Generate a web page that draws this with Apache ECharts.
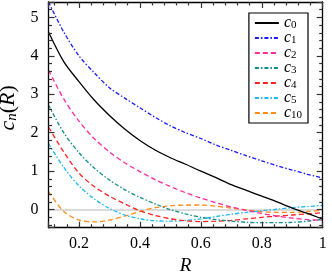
<!DOCTYPE html>
<html><head><meta charset="utf-8">
<script src="https://cdn.jsdelivr.net/npm/echarts@6/dist/echarts.min.js"></script>
<style>html,body{margin:0;padding:0;background:#fff}#c{width:332px;height:274px}</style>
</head><body><div id="c"></div>
<script>
// Data
const R   = [0.10, 0.15, 0.20, 0.25, 0.30, 0.35, 0.40, 0.45, 0.50, 0.55, 0.60, 0.65, 0.70, 0.75, 0.80, 0.85, 0.90, 0.95, 1.00];
const c0  = [4.62, 3.85, 3.33, 2.85, 2.45, 2.10, 1.80, 1.55, 1.35, 1.18, 1.00, 0.83, 0.65, 0.50, 0.35, 0.20, 0.04, -0.10, -0.25];
const c1  = [5.40, 4.62, 4.00, 3.56, 3.17, 2.90, 2.65, 2.40, 2.18, 2.00, 1.85, 1.68, 1.54, 1.40, 1.27, 1.14, 1.03, 0.92, 0.82];
const c2  = [3.63, 2.88, 2.30, 1.85, 1.50, 1.22, 0.99, 0.78, 0.60, 0.44, 0.30, 0.18, 0.07, -0.02, -0.10, -0.17, -0.22, -0.26, -0.28];
const c3  = [2.72, 2.00, 1.48, 1.08, 0.77, 0.52, 0.32, 0.15, 0.00, -0.11, -0.20, -0.26, -0.30, -0.33, -0.34, -0.34, -0.33, -0.30, -0.25];
const c4  = [2.15, 1.50, 0.95, 0.60, 0.35, 0.15, -0.03, -0.15, -0.24, -0.29, -0.31, -0.30, -0.28, -0.24, -0.20, -0.17, -0.14, -0.11, -0.08];
const c5  = [1.72, 1.10, 0.62, 0.28, 0.03, -0.14, -0.24, -0.29, -0.30, -0.28, -0.24, -0.18, -0.12, -0.07, -0.03, 0.01, 0.05, 0.08, 0.11];
const c10 = [0.47, -0.05, -0.27, -0.32, -0.27, -0.17, -0.05, 0.05, 0.10, 0.12, 0.12, 0.09, 0.04, -0.01, -0.05, -0.07, -0.07, -0.05, -0.02];

const seriesNames = ['c0', 'c1', 'c2', 'c3', 'c4', 'c5', 'c10'];
const seriesValues = [c0, c1, c2, c3, c4, c5, c10];
const seriesSubs = ['0', '1', '2', '3', '4', '5', '10'];
const colors = ['#000000', '#1a1aff', '#ff2a9d', '#0f8c8c', '#ff2222', '#1ab8f0', '#ff8c1a'];
const dashDot = [4, 2, 1.5, 2];
const dashed = [5, 3];
const lineTypes = ['solid', dashDot, dashed, dashDot, dashed, dashDot, dashed];

const SERIF = 'Liberation Serif';

const chart = echarts.init(document.getElementById('c'), null, {renderer: 'canvas'});

const TICK = {color: '#333', width: 1.2, opacity: 1};
function xAx(pos, labels) {
  return {
    type: 'value', position: pos, min: 0.1, max: 1, splitNumber: 5,
    axisLine: {show: true, onZero: false, lineStyle: {color: '#000', width: 1.3}},
    axisTick: {show: true, inside: true, length: 6, lineStyle: Object.assign({}, TICK)},
    minorTick: {show: true, splitNumber: 5, length: 3.5, lineStyle: Object.assign({}, TICK)},
    splitLine: {show: false},
    axisLabel: {show: labels, showMinLabel: false, color: '#000', fontFamily: SERIF, fontSize: 16, margin: 8,
      formatter: v => String(+v.toFixed(2))},
    name: labels ? 'R' : '', nameLocation: 'middle', nameGap: 24,
    nameTextStyle: {fontFamily: SERIF, fontStyle: 'italic', fontSize: 19, color: '#000'},
    z: 50
  };
}
function yAx(pos, labels) {
  return {
    type: 'value', position: pos, min: -0.47, max: 5.4, splitNumber: 6,
    axisLine: {show: true, onZero: false, lineStyle: {color: '#000', width: 1.3}},
    axisTick: {show: true, inside: true, length: 6, lineStyle: Object.assign({}, TICK)},
    minorTick: {show: true, splitNumber: 5, length: 3.5, lineStyle: Object.assign({}, TICK)},
    splitLine: {show: false},
    axisLabel: {show: labels, showMinLabel: false, showMaxLabel: false, color: '#000', fontFamily: SERIF, fontSize: 16, margin: 10,
      formatter: v => String(+v.toFixed(2))},
    name: labels ? '{i|c}{s|n}{p|(}{i|R}{p|)}' : '', nameLocation: 'middle', nameGap: 25, nameRotate: 90,
    nameTextStyle: {color: '#000', padding: [0, 0, 0, 14], rich: {
      i: {fontFamily: SERIF, fontStyle: 'italic', fontSize: 22, lineHeight: 22, color: '#000'},
      p: {fontFamily: SERIF, fontSize: 22, lineHeight: 22, color: '#000'},
      s: {fontFamily: SERIF, fontStyle: 'italic', fontSize: 15, lineHeight: 11, verticalAlign: 'bottom', color: '#000'}
    }},
    z: 50
  };
}

const series = seriesNames.map((n, k) => ({
  name: n, type: 'line', xAxisIndex: 0, yAxisIndex: 0,
  data: R.map((r, i) => [r, seriesValues[k][i]]),
  smooth: 0.3, symbol: 'none', clip: true,
  lineStyle: {color: colors[k], width: 1.3, type: lineTypes[k]},
  itemStyle: {color: colors[k]},
  z: 10 - k
}));
series[0].markLine = {
  silent: true, symbol: ['none', 'none'], label: {show: false},
  lineStyle: {color: '#cfcfcf', width: 1.5, type: 'solid'},
  data: [{yAxis: 0}], z: 1
};

chart.setOption({
  animation: false,
  backgroundColor: '#fff',
  grid: {left: 48.5, right: 9.3, top: 2, bottom: 46.3, containLabel: false, outerBoundsMode: 'none'},
  xAxis: [xAx('bottom', true), xAx('top', false)],
  yAxis: [yAx('left', true), yAx('right', false)],
  legend: {
    show: true, orient: 'vertical', right: 24, top: 13,
    itemWidth: 24, itemHeight: 10, itemGap: -1,
    padding: [2, 6, 2, 5],
    borderColor: '#000', borderWidth: 1.2, backgroundColor: '#fff',
    itemStyle: {color: 'rgba(0,0,0,0)', borderColor: 'rgba(0,0,0,0)', borderWidth: 0},
    data: seriesNames,
    formatter: name => '{i|c}{s|' + seriesSubs[seriesNames.indexOf(name)] + '}',
    textStyle: {color: '#000', rich: {
      i: {fontFamily: SERIF, fontStyle: 'italic', fontSize: 16, color: '#000'},
      s: {fontFamily: SERIF, fontSize: 11, lineHeight: 8, verticalAlign: 'bottom', color: '#000'}
    }}
  },
  series: series
});
</script>
</body></html>
